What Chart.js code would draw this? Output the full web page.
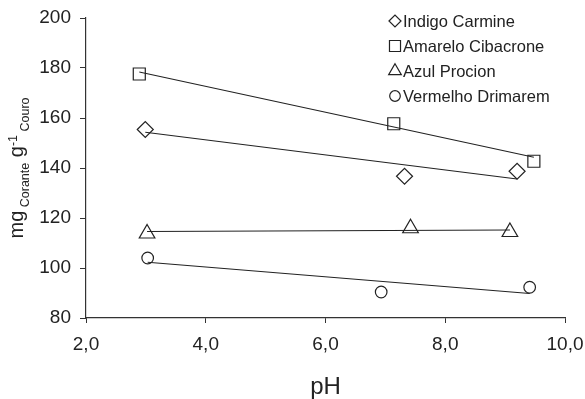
<!DOCTYPE html>
<html><head><meta charset="utf-8">
<script src="https://cdn.jsdelivr.net/npm/chart.js@4/dist/chart.umd.min.js"></script>
<style>html,body{margin:0;padding:0;background:#fff}</style>
</head><body>
<canvas id="c" width="585" height="399"></canvas>
<script>
// ---- data ----
const seriesNames = ['Indigo Carmine', 'Amarelo Cibacrone', 'Azul Procion', 'Vermelho Drimarem'];
const seriesMarkers = ['rectRot', 'rect', 'triangle', 'circle'];

const indigoPH = [2.99, 7.32, 9.20];
const indigoVal = [155.4, 136.7, 138.7];
const amareloPH = [2.89, 7.14, 9.48];
const amareloVal = [177.6, 157.7, 142.7];
const azulPH = [3.02, 7.42, 9.08];
const azulVal = [113.8, 115.9, 114.4];
const vermelhoPH = [3.03, 6.93, 9.41];
const vermelhoVal = [104.0, 90.4, 92.3];

// trend-line end points
const indigoTrendPH = [2.99, 9.20];
const indigoTrendVal = [154.3, 135.6];
const amareloTrendPH = [2.89, 9.48];
const amareloTrendVal = [178.4, 144.3];
const azulTrendPH = [3.02, 9.08];
const azulTrendVal = [114.6, 115.2];
const vermelhoTrendPH = [3.03, 9.41];
const vermelhoTrendVal = [102.3, 89.8];

const xTickValues = [2, 4, 6, 8, 10];
const yTickValues = [80, 100, 120, 140, 160, 180, 200];
const xTitle = 'pH';
const yTitleParts = [['mg', 'main'], [' Corante', 'sub'], [' g', 'main'], ['-1', 'sup'], [' Couro', 'sub']];

// ---- build ----
const FONT = '"Liberation Sans", Arial, Helvetica, sans-serif';
const INK = '#222222';
const pts = (xs, ys) => xs.map((x, i) => ({x: x, y: ys[i]}));

const markerRadius = {rectRot: 8, rect: 8.5, triangle: 9, circle: 5.8};
const legendRadius = {rectRot: 6, rect: 7.8, triangle: 7.3, circle: 5.3};

const scatterSets = [
  [indigoPH, indigoVal], [amareloPH, amareloVal], [azulPH, azulVal], [vermelhoPH, vermelhoVal]
].map((s, i) => ({
  label: seriesNames[i],
  data: pts(s[0], s[1]),
  showLine: false,
  pointStyle: seriesMarkers[i],
  pointRadius: markerRadius[seriesMarkers[i]],
  pointHoverRadius: markerRadius[seriesMarkers[i]],
  borderColor: INK,
  backgroundColor: 'rgba(0,0,0,0)',
  pointBorderWidth: 1.2,
  order: 1
}));

const trendSets = [
  [indigoTrendPH, indigoTrendVal], [amareloTrendPH, amareloTrendVal],
  [azulTrendPH, azulTrendVal], [vermelhoTrendPH, vermelhoTrendVal]
].map((s, i) => ({
  label: seriesNames[i] + ' (tendência)',
  data: pts(s[0], s[1]),
  showLine: true,
  pointRadius: 0,
  borderColor: INK,
  borderWidth: 1.1,
  fill: false,
  order: 2
}));

const legendPlugin = {
  id: 'customLegend',
  afterDraw(chart) {
    const ctx = chart.ctx;
    ctx.save();
    ctx.textBaseline = 'middle';
    ctx.textAlign = 'left';
    const mx = 395, tx = 403, y0 = 21, dy = 25;
    seriesNames.forEach((name, i) => {
      const y = y0 + i * dy;
      ctx.strokeStyle = INK;
      ctx.fillStyle = 'rgba(0,0,0,0)';
      ctx.lineWidth = 1.2;
      Chart.helpers.drawPoint(ctx, {pointStyle: seriesMarkers[i], radius: legendRadius[seriesMarkers[i]], borderWidth: 1.2}, mx, y);
      ctx.font = '16.5px ' + FONT;
      ctx.fillStyle = INK;
      ctx.fillText(name, tx, y + 1);
    });
    ctx.restore();
  }
};

const yTitlePlugin = {
  id: 'yTitle',
  afterDraw(chart) {
    const ctx = chart.ctx;
    const area = chart.chartArea;
    const fonts = {main: '20px ' + FONT, sub: '12.5px ' + FONT, sup: '12.5px ' + FONT};
    const shift = {main: 0, sub: 6, sup: -5.5};
    let total = 0;
    yTitleParts.forEach(p => { ctx.font = fonts[p[1]]; total += ctx.measureText(p[0]).width; });
    ctx.save();
    ctx.translate(22.5, (area.top + area.bottom) / 2);
    ctx.rotate(-Math.PI / 2);
    ctx.fillStyle = INK;
    ctx.textBaseline = 'alphabetic';
    ctx.textAlign = 'left';
    let x = -total / 2;
    yTitleParts.forEach(p => {
      ctx.font = fonts[p[1]];
      ctx.fillText(p[0], x, shift[p[1]]);
      x += ctx.measureText(p[0]).width;
    });
    ctx.restore();
  }
};

new Chart(document.getElementById('c'), {
  type: 'scatter',
  data: {datasets: [...trendSets, ...scatterSets]},
  options: {
    responsive: false,
    devicePixelRatio: 1,
    animation: false,
    layout: {padding: {top: 18, right: 20, left: 0, bottom: 0}},
    plugins: {legend: {display: false}, tooltip: {enabled: false}, title: {display: false}},
    scales: {
      x: {
        type: 'linear', min: 2, max: 10,
        afterFit: s => { s.height = 81; s.paddingLeft = 0; s.paddingRight = 0; },
        afterBuildTicks: s => { s.ticks = xTickValues.map(v => ({value: v})); },
        ticks: {
          font: {family: FONT, size: 19}, color: INK, padding: 10,
          maxRotation: 0,
          callback: v => Number(v).toFixed(1).replace('.', ',')
        },
        grid: {display: true, drawOnChartArea: false, drawTicks: true, tickLength: 5, color: '#333', lineWidth: 1},
        border: {display: true, color: '#333', width: 1.2},
        title: {display: true, text: xTitle, font: {family: FONT, size: 24, lineHeight: 1}, color: INK, padding: {top: 0, bottom: 0}}
      },
      y: {
        type: 'linear', min: 80, max: 200,
        afterFit: s => { s.width = 86; s.paddingTop = 0; s.paddingBottom = 0; },
        afterBuildTicks: s => { s.ticks = yTickValues.map(v => ({value: v})); },
        ticks: {font: {family: FONT, size: 19}, color: INK, padding: 9},
        grid: {display: true, drawOnChartArea: false, drawTicks: true, tickLength: 6, color: '#333', lineWidth: 1},
        border: {display: true, color: '#333', width: 1.2}
      }
    }
  },
  plugins: [legendPlugin, yTitlePlugin]
});
</script>
</body></html>
